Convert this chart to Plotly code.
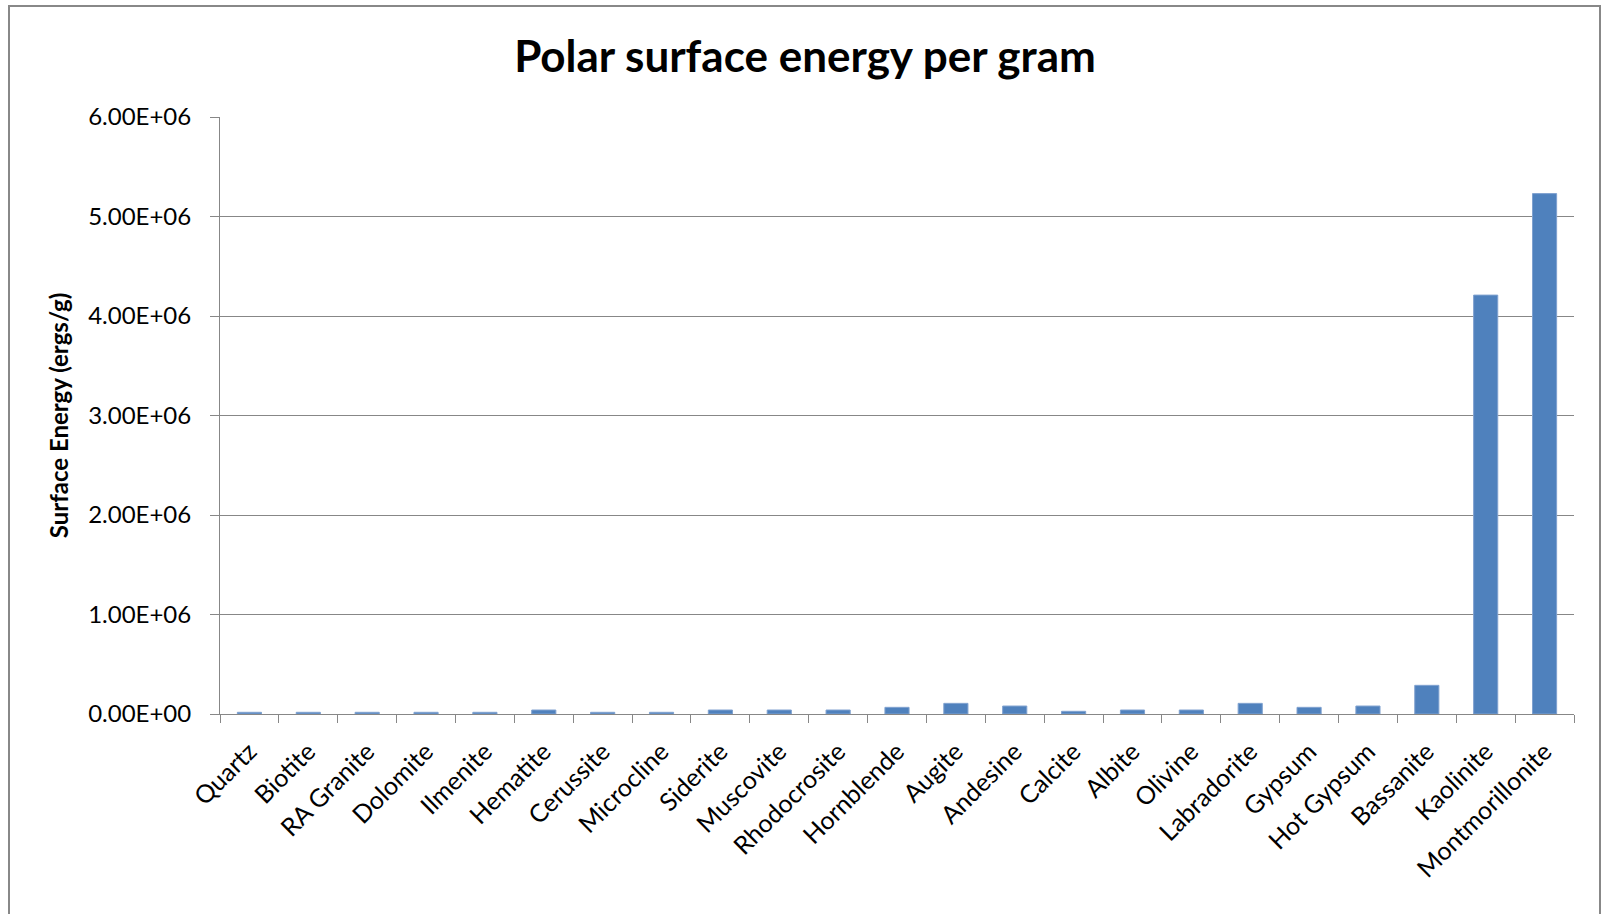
import plotly.graph_objects as go

minerals = [
    "Quartz", "Biotite", "RA Granite", "Dolomite", "Ilmenite", "Hematite",
    "Cerussite", "Microcline", "Siderite", "Muscovite", "Rhodocrosite",
    "Hornblende", "Augite", "Andesine", "Calcite", "Albite", "Olivine",
    "Labradorite", "Gypsum", "Hot Gypsum", "Bassanite", "Kaolinite",
    "Montmorillonite",
]
surface_energy = [
    17000, 17000, 17000, 17000, 17000, 40000,
    17000, 17000, 40000, 40000, 40000,
    67000, 107000, 80000, 27000, 40000, 40000,
    107000, 67000, 80000, 288000, 4210000,
    5230000,
]
y_tick_values = [0, 1e6, 2e6, 3e6, 4e6, 5e6, 6e6]
y_tick_labels = ["0.00E+00", "1.00E+06", "2.00E+06", "3.00E+06",
                 "4.00E+06", "5.00E+06", "6.00E+06"]

FONT = "Lato, 'Open Sans', sans-serif"
GRID = "#878787"

fig = go.Figure(
    go.Bar(
        x=minerals,
        y=surface_energy,
        marker=dict(color="#4F81BD", line=dict(color="#7FA1CF", width=1)),
    )
)

# plot area: x 220..1574 px, y 117..714 px
L, R, T, B = 220, 28, 117, 200
W, H = 1602, 914
pw = W - L - R
ph = H - T - B

def px_x(px):
    return (px - L) / pw

def px_y(py):
    return (H - B - py) / ph

fig.update_layout(
    width=W,
    height=H,
    margin=dict(l=L, r=R, t=T, b=B),
    paper_bgcolor="white",
    plot_bgcolor="white",
    showlegend=False,
    bargap=0.59,
    font=dict(family=FONT, color="#000000", size=20),
    title=dict(
        text="<b>Polar surface energy per gram</b>",
        font=dict(family=FONT, size=44, color="#000000"),
        x=805 / W,
        xref="container",
        xanchor="center",
        y=1 - 57 / H,
        yref="container",
        yanchor="middle",
    ),
    shapes=[
        dict(
            type="rect",
            xref="paper",
            yref="paper",
            x0=px_x(9),
            x1=px_x(1600),
            y0=px_y(930),
            y1=px_y(6),
            line=dict(color="#888888", width=2),
            fillcolor="rgba(0,0,0,0)",
            layer="below",
        )
    ],
)

fig.update_xaxes(
    type="category",
    showline=True,
    linecolor=GRID,
    linewidth=1,
    ticks="outside",
    tickson="boundaries",
    ticklen=8,
    tickcolor=GRID,
    tickangle=-45,
    ticklabelstandoff=12,
    tickfont=dict(family=FONT, size=25, color="#000000"),
    showgrid=False,
)

fig.update_yaxes(
    range=[0, 6e6],
    tickvals=y_tick_values,
    ticktext=y_tick_labels,
    showline=True,
    linecolor=GRID,
    linewidth=1,
    ticks="outside",
    ticklen=9,
    tickcolor=GRID,
    ticklabelstandoff=14,
    showgrid=True,
    gridcolor=GRID,
    gridwidth=1,
    zeroline=False,
    tickfont=dict(family=FONT, size=24, color="#000000"),
    title=dict(
        text="<b>Surface Energy (ergs/g)</b>",
        font=dict(family=FONT, size=24, color="#000000"),
        standoff=12,
    ),
)

fig.write_html("out.html")
